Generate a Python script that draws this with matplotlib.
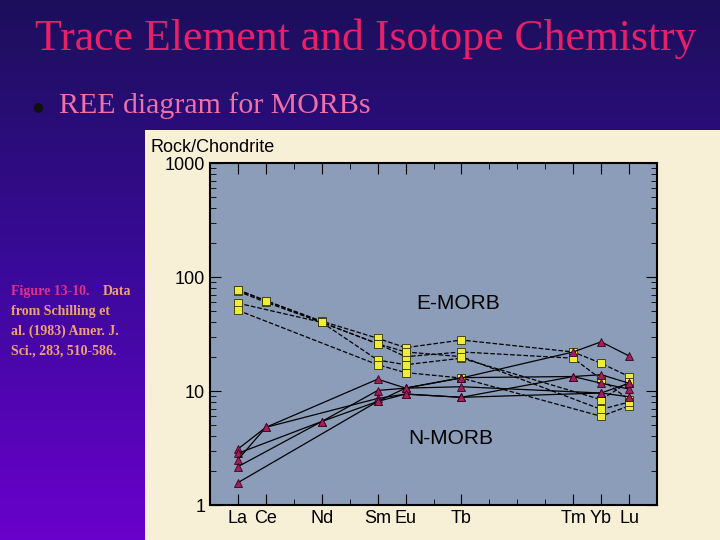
import numpy as np
import matplotlib
matplotlib.use('Agg')
import matplotlib.pyplot as plt

# chart data: atomic number positions for the REE
elements = ['La', 'Ce', 'Nd', 'Sm', 'Eu', 'Tb', 'Tm', 'Yb', 'Lu']
z_numbers = [57, 58, 60, 62, 63, 65, 69, 70, 71]
nan = np.nan

e_morb = [
    [77, 62, 41, 29, 24, 28, 22, 17.5, 13.4],
    [75, 60, 40, 26, 20, 22, 19.4, 12.7, 8.4],
    [59, nan, 40, 18.7, 17, 19.4, nan, 8.4, 12],
    [51, nan, nan, 17, 14.5, 13, nan, 6.0, 7.4],
    [77, 62, 40, 26, 22, 20, nan, 6.9, 8.0],
]
n_morb = [
    [3.1, 4.8, nan, 12.7, 10.6, 13, 22, 27, 20.3],
    [2.84, nan, 5.4, 10.1, 10.6, 13.1, 13.4, 13.9, 11.7],
    [2.5, 4.8, nan, 8.6, 9.4, 8.8, 13.4, 11.7, 10.4],
    [2.17, nan, 5.4, 8.1, 10.6, 10.9, nan, 9.6, 8.9],
    [1.57, nan, nan, 8.1, 9.4, 8.8, nan, 9.6, 11.7],
]

fig = plt.figure(figsize=(7.2, 5.4), dpi=100)

# slide background gradient
bg = fig.add_axes([0, 0, 1, 1])
grad = np.linspace(0, 1, 256).reshape(-1, 1)
cmap = matplotlib.colors.LinearSegmentedColormap.from_list(
    'slide', ['#1c0f5a', '#3a0a9a', '#6a00cc'])
bg.imshow(grad, aspect='auto', cmap=cmap, extent=[0, 1, 0, 1], origin='upper')
bg.set_xlim(0, 1)
bg.set_ylim(0, 1)
bg.axis('off')

serif = ['Liberation Serif', 'DejaVu Serif']
fig.text(0.048, 0.928, 'Trace Element and Isotope Chemistry', color='#e8206a',
         fontsize=31.5, family=serif, va='center')
fig.text(0.045, 0.802, '\u25cf', color='#101010', fontsize=9, va='center')
fig.text(0.082, 0.805, 'REE diagram for MORBs', color='#f070a8',
         fontsize=21.5, family=serif, va='center')

cap_kw = dict(fontsize=10, family=serif, fontweight='bold', va='baseline')
fig.text(0.015, 0.453, 'Figure 13-10.', color='#e0308a', **cap_kw)
fig.text(0.143, 0.453, 'Data', color='#f0a070', **cap_kw)
for i, line in enumerate(['from Schilling et', 'al. (1983) Amer. J.',
                          'Sci., 283, 510-586.']):
    fig.text(0.015, 0.453 - (i + 1) * 0.0365, line, color='#f0a070', **cap_kw)

# embedded figure panel
panel = fig.add_axes([145 / 720, 0, 575 / 720, 410 / 540])
panel.set_facecolor('#f7efd6')
panel.set_xticks([])
panel.set_yticks([])
for s in panel.spines.values():
    s.set_visible(False)

ax = fig.add_axes([210 / 720, 35 / 540, 447 / 720, 342 / 540])
ax.set_facecolor('#8b9db9')
ax.set_yscale('log')
ax.set_ylim(1, 1000)
ax.set_xlim(56, 72)

for row in e_morb:
    y = np.array(row, dtype=float)
    m = ~np.isnan(y)
    ax.plot(np.array(z_numbers)[m], y[m], ls='--', color='black', lw=0.9,
            marker='s', ms=5.5, mfc='#f0ec3a', mec='#333300', mew=0.6)
for row in n_morb:
    y = np.array(row, dtype=float)
    m = ~np.isnan(y)
    ax.plot(np.array(z_numbers)[m], y[m], ls='-', color='black', lw=0.9,
            marker='^', ms=6, mfc='#a0205a', mec='#400020', mew=0.6)

sans = ['Liberation Sans', 'DejaVu Sans']
ax.text(63.4, 52, 'E-MORB', fontsize=15, family=sans)
ax.text(63.1, 3.4, 'N-MORB', fontsize=15, family=sans)

ax.set_xticks(z_numbers)
ax.set_xticklabels(elements, fontsize=13, family=sans)
ax.set_xticks(range(57, 72), minor=True)
ax.set_yticks([1, 10, 100, 1000])
ax.set_yticklabels(['1', '10', '100', '1000'], fontsize=13, family=sans)
ax.yaxis.set_minor_locator(matplotlib.ticker.LogLocator(subs=range(2, 10)))
ax.yaxis.set_minor_formatter(matplotlib.ticker.NullFormatter())
ax.tick_params(which='both', direction='in', top=True, right=True, length=8)
ax.tick_params(which='minor', length=4)
for s in ax.spines.values():
    s.set_linewidth(1.5)
fig.text(150 / 720, 384 / 540, 'Rock/Chondrite', fontsize=13,
         family=sans, va='bottom')

fig.savefig('out.png', dpi=100)
